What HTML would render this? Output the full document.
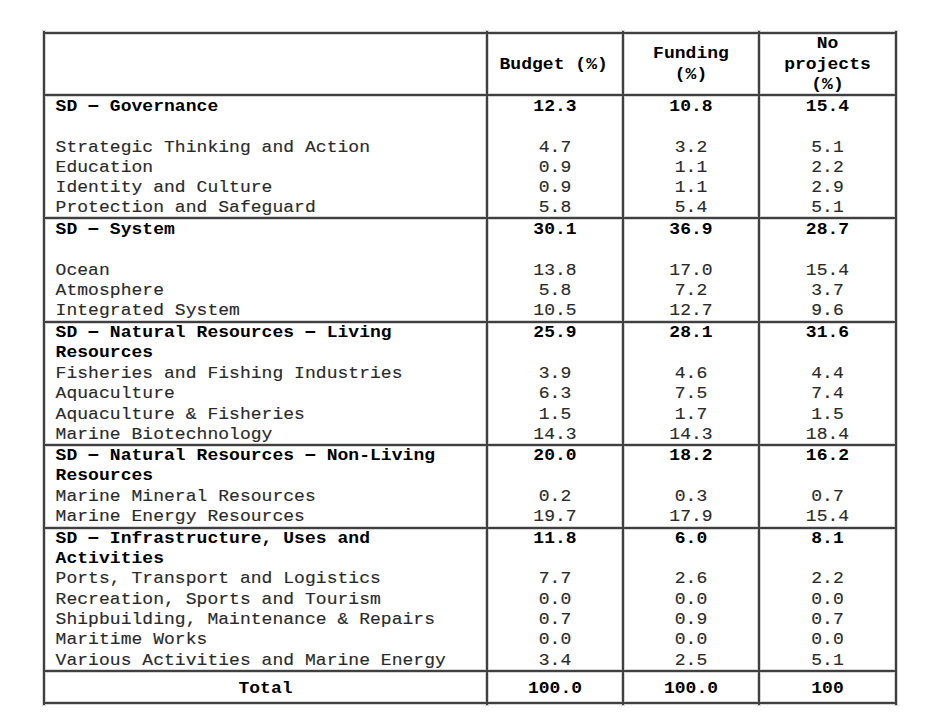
<!DOCTYPE html>
<html><head><meta charset="utf-8"><title>Sustainable development budget table</title>
<style>
html,body{margin:0;padding:0;background:#fff;}
body{width:940px;height:720px;position:relative;overflow:hidden;}
#pg{position:absolute;left:0;top:0;width:940px;height:720px;background:#fff;font-family:"Liberation Mono",monospace;font-size:18px;line-height:20px;color:#2a2a2a;}
.t,.c{position:absolute;white-space:pre;transform:scaleY(0.93);transform-origin:0 15px;letter-spacing:0.04px;}
.c{text-align:center;}
.t,.c{-webkit-text-stroke:0.15px #2a2a2a;}
.t.b,.c.b{-webkit-text-stroke:0.0px #000;}
.b{font-weight:bold;color:#000;}
.d{display:inline-block;transform:translateY(-0.8px) scale(1.22,1.25);transform-origin:50% 10.4px;}
.h{position:absolute;height:2px;background:#404040;}
.he{position:absolute;height:4px;background:#d4d4d4;}
.v{position:absolute;width:2px;background:#404040;}
.ve{position:absolute;width:4px;background:#d4d4d4;}
</style></head><body><div id="pg">

<div class="t b" style="left:55.6px;top:96px">SD <span class="d">–</span> Governance</div>
<div class="c b" style="left:488px;width:134px;top:96px">12.3</div>
<div class="c b" style="left:624px;width:134px;top:96px">10.8</div>
<div class="c b" style="left:760px;width:135px;top:96px">15.4</div>
<div class="t" style="left:55.6px;top:137px">Strategic Thinking and Action</div>
<div class="c" style="left:488px;width:134px;top:137px">4.7</div>
<div class="c" style="left:624px;width:134px;top:137px">3.2</div>
<div class="c" style="left:760px;width:135px;top:137px">5.1</div>
<div class="t" style="left:55.6px;top:157px">Education</div>
<div class="c" style="left:488px;width:134px;top:157px">0.9</div>
<div class="c" style="left:624px;width:134px;top:157px">1.1</div>
<div class="c" style="left:760px;width:135px;top:157px">2.2</div>
<div class="t" style="left:55.6px;top:177px">Identity and Culture</div>
<div class="c" style="left:488px;width:134px;top:177px">0.9</div>
<div class="c" style="left:624px;width:134px;top:177px">1.1</div>
<div class="c" style="left:760px;width:135px;top:177px">2.9</div>
<div class="t" style="left:55.6px;top:197px">Protection and Safeguard</div>
<div class="c" style="left:488px;width:134px;top:197px">5.8</div>
<div class="c" style="left:624px;width:134px;top:197px">5.4</div>
<div class="c" style="left:760px;width:135px;top:197px">5.1</div>
<div class="t b" style="left:55.6px;top:219px">SD <span class="d">–</span> System</div>
<div class="c b" style="left:488px;width:134px;top:219px">30.1</div>
<div class="c b" style="left:624px;width:134px;top:219px">36.9</div>
<div class="c b" style="left:760px;width:135px;top:219px">28.7</div>
<div class="t" style="left:55.6px;top:260px">Ocean</div>
<div class="c" style="left:488px;width:134px;top:260px">13.8</div>
<div class="c" style="left:624px;width:134px;top:260px">17.0</div>
<div class="c" style="left:760px;width:135px;top:260px">15.4</div>
<div class="t" style="left:55.6px;top:280px">Atmosphere</div>
<div class="c" style="left:488px;width:134px;top:280px">5.8</div>
<div class="c" style="left:624px;width:134px;top:280px">7.2</div>
<div class="c" style="left:760px;width:135px;top:280px">3.7</div>
<div class="t" style="left:55.6px;top:300px">Integrated System</div>
<div class="c" style="left:488px;width:134px;top:300px">10.5</div>
<div class="c" style="left:624px;width:134px;top:300px">12.7</div>
<div class="c" style="left:760px;width:135px;top:300px">9.6</div>
<div class="t b" style="left:55.6px;top:322px">SD <span class="d">–</span> Natural Resources <span class="d">–</span> Living</div>
<div class="c b" style="left:488px;width:134px;top:322px">25.9</div>
<div class="c b" style="left:624px;width:134px;top:322px">28.1</div>
<div class="c b" style="left:760px;width:135px;top:322px">31.6</div>
<div class="t b" style="left:55.6px;top:342px">Resources</div>
<div class="t" style="left:55.6px;top:363px">Fisheries and Fishing Industries</div>
<div class="c" style="left:488px;width:134px;top:363px">3.9</div>
<div class="c" style="left:624px;width:134px;top:363px">4.6</div>
<div class="c" style="left:760px;width:135px;top:363px">4.4</div>
<div class="t" style="left:55.6px;top:383px">Aquaculture</div>
<div class="c" style="left:488px;width:134px;top:383px">6.3</div>
<div class="c" style="left:624px;width:134px;top:383px">7.5</div>
<div class="c" style="left:760px;width:135px;top:383px">7.4</div>
<div class="t" style="left:55.6px;top:404px">Aquaculture &amp; Fisheries</div>
<div class="c" style="left:488px;width:134px;top:404px">1.5</div>
<div class="c" style="left:624px;width:134px;top:404px">1.7</div>
<div class="c" style="left:760px;width:135px;top:404px">1.5</div>
<div class="t" style="left:55.6px;top:424px">Marine Biotechnology</div>
<div class="c" style="left:488px;width:134px;top:424px">14.3</div>
<div class="c" style="left:624px;width:134px;top:424px">14.3</div>
<div class="c" style="left:760px;width:135px;top:424px">18.4</div>
<div class="t b" style="left:55.6px;top:445px">SD <span class="d">–</span> Natural Resources <span class="d">–</span> Non-Living</div>
<div class="c b" style="left:488px;width:134px;top:445px">20.0</div>
<div class="c b" style="left:624px;width:134px;top:445px">18.2</div>
<div class="c b" style="left:760px;width:135px;top:445px">16.2</div>
<div class="t b" style="left:55.6px;top:465px">Resources</div>
<div class="t" style="left:55.6px;top:486px">Marine Mineral Resources</div>
<div class="c" style="left:488px;width:134px;top:486px">0.2</div>
<div class="c" style="left:624px;width:134px;top:486px">0.3</div>
<div class="c" style="left:760px;width:135px;top:486px">0.7</div>
<div class="t" style="left:55.6px;top:506px">Marine Energy Resources</div>
<div class="c" style="left:488px;width:134px;top:506px">19.7</div>
<div class="c" style="left:624px;width:134px;top:506px">17.9</div>
<div class="c" style="left:760px;width:135px;top:506px">15.4</div>
<div class="t b" style="left:55.6px;top:528px">SD <span class="d">–</span> Infrastructure, Uses and</div>
<div class="c b" style="left:488px;width:134px;top:528px">11.8</div>
<div class="c b" style="left:624px;width:134px;top:528px">6.0</div>
<div class="c b" style="left:760px;width:135px;top:528px">8.1</div>
<div class="t b" style="left:55.6px;top:548px">Activities</div>
<div class="t" style="left:55.6px;top:568px">Ports, Transport and Logistics</div>
<div class="c" style="left:488px;width:134px;top:568px">7.7</div>
<div class="c" style="left:624px;width:134px;top:568px">2.6</div>
<div class="c" style="left:760px;width:135px;top:568px">2.2</div>
<div class="t" style="left:55.6px;top:589px">Recreation, Sports and Tourism</div>
<div class="c" style="left:488px;width:134px;top:589px">0.0</div>
<div class="c" style="left:624px;width:134px;top:589px">0.0</div>
<div class="c" style="left:760px;width:135px;top:589px">0.0</div>
<div class="t" style="left:55.6px;top:609px">Shipbuilding, Maintenance &amp; Repairs</div>
<div class="c" style="left:488px;width:134px;top:609px">0.7</div>
<div class="c" style="left:624px;width:134px;top:609px">0.9</div>
<div class="c" style="left:760px;width:135px;top:609px">0.7</div>
<div class="t" style="left:55.6px;top:629px">Maritime Works</div>
<div class="c" style="left:488px;width:134px;top:629px">0.0</div>
<div class="c" style="left:624px;width:134px;top:629px">0.0</div>
<div class="c" style="left:760px;width:135px;top:629px">0.0</div>
<div class="t" style="left:55.6px;top:650px">Various Activities and Marine Energy</div>
<div class="c" style="left:488px;width:134px;top:650px">3.4</div>
<div class="c" style="left:624px;width:134px;top:650px">2.5</div>
<div class="c" style="left:760px;width:135px;top:650px">5.1</div>
<div class="c b" style="left:486.7px;width:134px;top:54px">Budget (%)</div>
<div class="c b" style="left:624px;width:134px;top:43px">Funding</div>
<div class="c b" style="left:624px;width:134px;top:64px">(%)</div>
<div class="c b" style="left:760px;width:135px;top:33px">No</div>
<div class="c b" style="left:760px;width:135px;top:54px">projects</div>
<div class="c b" style="left:760px;width:135px;top:74px">(%)</div>
<div class="c b" style="left:45px;width:441px;top:678px">Total</div>
<div class="c b" style="left:488px;width:134px;top:678px">100.0</div>
<div class="c b" style="left:624px;width:134px;top:678px">100.0</div>
<div class="c b" style="left:760px;width:135px;top:678px">100</div>
<div class="he" style="left:42px;width:856px;top:31px"></div>
<div class="he" style="left:42px;width:856px;top:93px"></div>
<div class="he" style="left:42px;width:856px;top:216px"></div>
<div class="he" style="left:42px;width:856px;top:320px"></div>
<div class="he" style="left:42px;width:856px;top:443px"></div>
<div class="he" style="left:42px;width:856px;top:526px"></div>
<div class="he" style="left:42px;width:856px;top:669px"></div>
<div class="he" style="left:42px;width:856px;top:701px"></div>
<div class="ve" style="left:42px;top:30px;height:676px"></div>
<div class="ve" style="left:485px;top:30px;height:676px"></div>
<div class="ve" style="left:621px;top:30px;height:676px"></div>
<div class="ve" style="left:757px;top:30px;height:676px"></div>
<div class="ve" style="left:894px;top:30px;height:676px"></div>
<div class="h" style="left:43px;width:854px;top:32px"></div>
<div class="h" style="left:43px;width:854px;top:94px"></div>
<div class="h" style="left:43px;width:854px;top:217px"></div>
<div class="h" style="left:43px;width:854px;top:321px"></div>
<div class="h" style="left:43px;width:854px;top:444px"></div>
<div class="h" style="left:43px;width:854px;top:527px"></div>
<div class="h" style="left:43px;width:854px;top:670px"></div>
<div class="h" style="left:43px;width:854px;top:702px"></div>
<div class="v" style="left:43px;top:31px;height:674px"></div>
<div class="v" style="left:486px;top:31px;height:674px"></div>
<div class="v" style="left:622px;top:31px;height:674px"></div>
<div class="v" style="left:758px;top:31px;height:674px"></div>
<div class="v" style="left:895px;top:31px;height:674px"></div>
</div></body></html>
